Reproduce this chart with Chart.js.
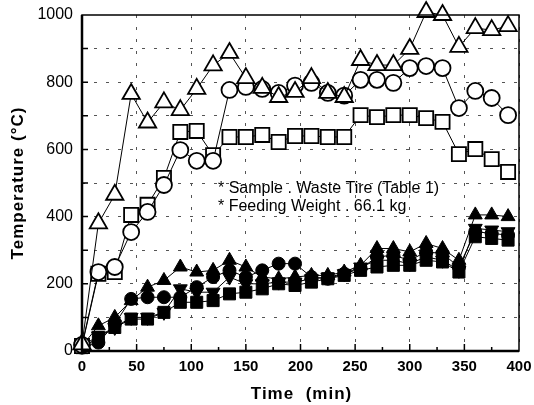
<!DOCTYPE html>
<html lang="en">
<head>
    <meta charset="UTF-8">
    <title>Temperature vs Time</title>
    <script src="https://cdn.jsdelivr.net/npm/chart.js"></script>
    <style>
        body {
            margin: 0;
            background: #ffffff;
        }

        #wrap {
            width: 534px;
            height: 405px;
        }
    </style>
</head>
<body>
    <div id="wrap">
        <canvas id="chart" width="534" height="405"></canvas>
    </div>

    <script>
        // sampling times (min)
        const times = [0, 15, 30, 45, 60, 75, 90, 105, 120, 135, 150, 165, 180, 195,
            210, 225, 240, 255, 270, 285, 300, 315, 330, 345, 360, 375, 390];

        // temperatures (degC), upper zone
        const openTriangle = [20, 380, 465, 765, 680, 740, 717, 780, 850, 887, 812, 783, 756, 771,
            812, 768, 756, 866, 851, 851, 899, 1009, 1000, 905, 961, 955, 967];
        const openCircle = [18, 235, 250, 354, 414, 494, 598, 566, 566, 777, 786, 780, 768, 790,
            798, 768, 760, 807, 807, 798, 842, 848, 842, 723, 774, 753, 702];
        const openSquare = [15, 230, 235, 405, 435, 515, 652, 655, 583, 637, 637, 643, 622, 640,
            640, 637, 637, 702, 696, 702, 702, 693, 682, 586, 601, 571, 533];

        // temperatures (degC), lower zone
        const filledTriangle = [15, 75, 100, 150, 190, 210, 250, 235, 240, 270, 250, 220, 215, 220,
            225, 225, 235, 255, 305, 305, 295, 320, 305, 270, 405, 405, 400];
        const filledCircle = [10, 25, 80, 155, 160, 160, 160, 190, 220, 240, 220, 240, 260, 260,
            220, 215, 230, 245, 280, 285, 270, 295, 290, 250, 355, 350, 345];
        const filledTriangleDown = [15, 45, 70, 100, 100, 115, 185, 175, 175, 220, 200, 200, 205, 205,
            215, 220, 230, 250, 270, 270, 260, 280, 270, 240, 365, 360, 355];
        const filledSquare = [10, 40, 70, 95, 95, 115, 145, 145, 150, 170, 175, 185, 200, 195,
            205, 215, 225, 240, 250, 255, 255, 270, 265, 235, 340, 335, 330];

        const notes = ["* Sample . Waste Tire (Table 1)", "* Feeding Weight . 66.1 kg"];
        const xTitle = "Time  (min)";
        const yTitle = "Temperature (\u00B0C)";

        const FONT = "'Liberation Sans', Arial, sans-serif";

        function pts(values) {
            return times.map((t, i) => ({ x: t, y: values[i] }));
        }

        function series(values, style, filled, size, rotation) {
            return {
                data: pts(values),
                clip: false,
                borderColor: '#000',
                borderWidth: 1,
                pointStyle: style,
                pointRotation: rotation || 0,
                pointRadius: size,
                pointHoverRadius: size,
                pointBorderWidth: filled ? 1 : 1.8,
                pointBorderColor: '#000',
                pointBackgroundColor: filled ? '#000' : '#fff',
                tension: 0
            };
        }

        // box around the plot, inward tick marks, axis titles and the two notes
        const frame = {
            id: 'frame',
            afterDatasetsDraw(chart) {
                const ctx = chart.ctx;
                const a = chart.chartArea;
                const xs = chart.scales.x;
                const ys = chart.scales.y;
                ctx.save();
                ctx.strokeStyle = '#000';
                ctx.lineWidth = 1.5;
                ctx.strokeRect(a.left, a.top, a.right - a.left, a.bottom - a.top);
                ctx.lineWidth = 2.5;
                ctx.beginPath();
                ctx.moveTo(a.left, a.top);
                ctx.lineTo(a.left, a.bottom);
                ctx.lineTo(a.right, a.bottom);
                ctx.stroke();

                ctx.lineWidth = 1.5;
                ctx.beginPath();
                for (let t = 25; t < 400; t += 25) {
                    const px = xs.getPixelForValue(t);
                    const len = t % 50 === 0 ? 7 : 4;
                    ctx.moveTo(px, a.bottom);
                    ctx.lineTo(px, a.bottom - len);
                }
                for (let v = 100; v < 1000; v += 100) {
                    const py = ys.getPixelForValue(v);
                    ctx.moveTo(a.left, py);
                    ctx.lineTo(a.left + 6, py);
                }
                ctx.stroke();

                ctx.fillStyle = '#000';
                ctx.font = '16px ' + FONT;
                ctx.textBaseline = 'alphabetic';
                ctx.textAlign = 'left';
                ctx.fillText(notes[0], xs.getPixelForValue(124.5), ys.getPixelForValue(470));
                ctx.fillText(notes[1], xs.getPixelForValue(124.5), ys.getPixelForValue(417));

                // axis titles
                ctx.font = 'bold 17px ' + FONT;
                ctx.letterSpacing = '1px';
                ctx.textAlign = 'center';
                ctx.textBaseline = 'middle';
                ctx.fillText(xTitle, (a.left + a.right) / 2 + 1, 394);
                ctx.translate(18, (a.top + a.bottom) / 2);
                ctx.rotate(-Math.PI / 2);
                ctx.fillText(yTitle, 0, 0);
                ctx.restore();
            }
        };

        new Chart(document.getElementById('chart'), {
            type: 'line',
            data: {
                datasets: [
                    series(openTriangle, 'triangle', false, 10),
                    series(openCircle, 'circle', false, 8),
                    series(openSquare, 'rect', false, 10),
                    series(filledTriangle, 'triangle', true, 8),
                    series(filledCircle, 'circle', true, 6.5),
                    series(filledTriangleDown, 'triangle', true, 8, 180),
                    series(filledSquare, 'rect', true, 8.5)
                ]
            },
            options: {
                responsive: false,
                animation: false,
                layout: { padding: { left: 0, right: 15, top: 15, bottom: 0 } },
                plugins: {
                    legend: { display: false },
                    tooltip: { enabled: false }
                },
                scales: {
                    x: {
                        type: 'linear',
                        min: 0,
                        max: 400,
                        afterFit(scale) {
                            scale.height = 54;
                            scale.paddingLeft = 0;
                            scale.paddingRight = 0;
                        },
                        ticks: {
                            stepSize: 50,
                            padding: 7,
                            color: '#000',
                            font: { family: FONT, size: 15, weight: 'bold' },
                            maxRotation: 0
                        },
                        grid: {
                            color: '#555',
                            lineWidth: 1,
                            drawTicks: false
                        },
                        border: { display: false, dash: [3, 9] }
                    },
                    y: {
                        min: 0,
                        max: 1000,
                        afterFit(scale) {
                            scale.width = 82;
                            scale.paddingTop = 0;
                            scale.paddingBottom = 0;
                        },
                        ticks: {
                            stepSize: 100,
                            padding: 9,
                            color: '#000',
                            font: { family: FONT, size: 16 },
                            callback: v => (v % 200 === 0 ? v : '')
                        },
                        grid: {
                            color: ctx => (ctx.tick && (ctx.tick.value === 0 || ctx.tick.value === 1000) ? 'rgba(0,0,0,0)' : '#555'),
                            lineWidth: 1,
                            drawTicks: false
                        },
                        border: { display: false, dash: [3, 9] }
                    }
                }
            },
            plugins: [frame]
        });
    </script>
</body>
</html>
